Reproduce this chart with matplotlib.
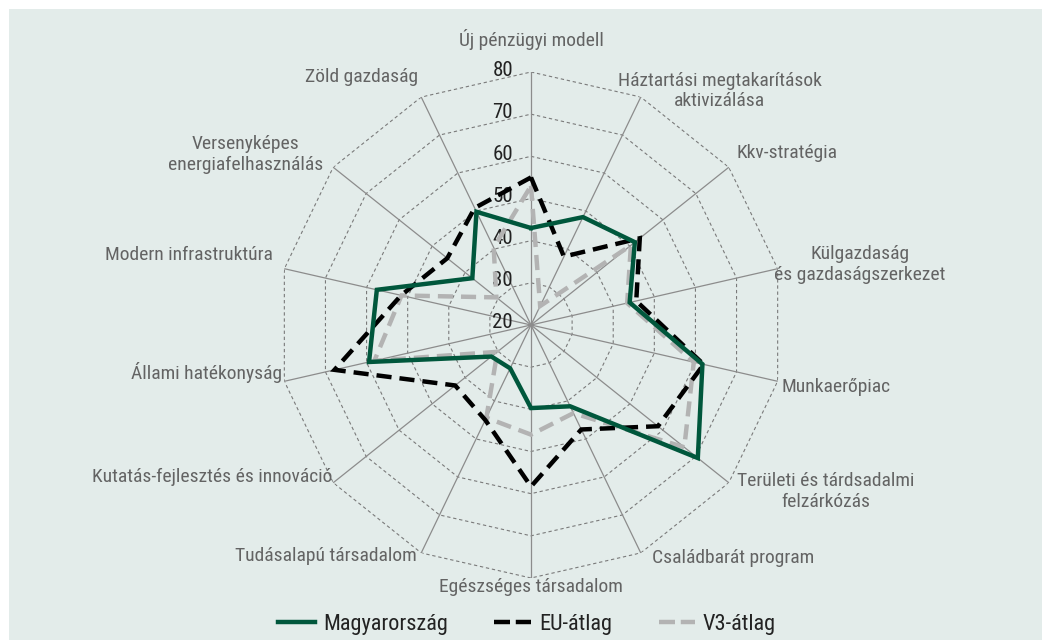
import os
import numpy as np
import matplotlib
matplotlib.use("Agg")
import matplotlib.pyplot as plt
from matplotlib import font_manager
from matplotlib.font_manager import FontProperties
from matplotlib.patches import Rectangle
from matplotlib.lines import Line2D

# ── Data (clockwise from the top) ────────────────────────────────────────
CATEGORIES = [
    "Új pénzügyi modell",
    "Háztartási megtakarítások\naktivizálása",
    "Kkv-stratégia",
    "Külgazdaság\nés gazdaságszerkezet",
    "Munkaerőpiac",
    "Területi és tárdsadalmi\nfelzárkózás",
    "Családbarát program",
    "Egészséges társadalom",
    "Tudásalapú társadalom",
    "Kutatás-fejlesztés és innováció",
    "Állami hatékonyság",
    "Modern infrastruktúra",
    "Versenyképes\nenergiafelhasználás",
    "Zöld gazdaság",
]
HU = [43.0, 48.4, 51.5, 44.0, 61.7, 70.6, 41.4, 39.7, 31.4, 32.0, 59.4, 57.5, 37.8, 49.8]
EU = [55.0, 38.0, 53.0, 45.6, 62.0, 58.5, 47.5, 58.3, 45.0, 43.0, 67.8, 51.6, 45.4, 50.8]
V3 = [53.0, 25.0, 50.3, 43.4, 59.6, 66.5, 43.2, 46.0, 44.4, 30.2, 58.1, 51.5, 30.5, 40.4]
SERIES_NAMES = ["Magyarország", "EU-átlag", "V3-átlag"]
R_TICKS = [20, 30, 40, 50, 60, 70, 80]

# label placement: (dx, dy) in pixels from the outer vertex, alignment
LABEL_LAYOUT = [
    ((0, 32), "center"), ((79, 6), "center"), ((8, 14), "left"),
    ((82, 4), "center"), ((4, -6), "left"), ((97, -9), "center"),
    ((11, -5), "left"), ((0, -9), "center"), ((-4, -3), "right"),
    ((-1, 6), "right"), ((-2, 9), "right"), ((-11, 14), "right"),
    ((-88, 13), "center"), ((-3, 20), "right"),
]


# ── Font: look for a condensed sans, else fall back to Liberation Sans ───
def pick_font():
    wanted = ["NotoSans-CondensedLight", "NotoSans-Condensed.", "RobotoCondensed-Regular",
              "Roboto Condensed", "LiberationSansNarrow-Regular", "NotoSans-SemiCondensed."]
    files = [f.fname for f in font_manager.fontManager.ttflist]
    for w in wanted:
        for fn in files:
            if w.lower() in os.path.basename(fn).lower() or w.lower() in fn.lower():
                return fn, True
    return None, False

font_file, condensed = pick_font()
if font_file:
    def fp(size):
        return FontProperties(fname=font_file, size=size)
else:
    def fp(size):
        return FontProperties(family="Liberation Sans", size=size)
scale = 1.0 if condensed else 0.86

BG = "#e3ecea"
GREEN = "#00573c"
GRAY = "#b3b3b3"

fig = plt.figure(figsize=(10.42, 6.4), dpi=100, facecolor="white")
fig.patches.append(Rectangle((9 / 1042, 0), 1, 1 - 9 / 640, transform=fig.transFigure,
                             facecolor=BG, edgecolor="none", zorder=-5))

ax = fig.add_axes([278 / 1042, 62 / 640, 506 / 1042, 506 / 640], projection="polar")
ax.set_zorder(2)
ax.set_facecolor("none")
ax.set_theta_offset(np.pi / 2)
ax.set_theta_direction(-1)
ax.set_ylim(20, 80)
ax.grid(False)
ax.spines["polar"].set_visible(False)
ax.set_xticks([])
ax.set_yticks([])

n = len(CATEGORIES)
angles = np.linspace(0, 2 * np.pi, n, endpoint=False)
closed = np.append(angles, angles[0])

# polygon grid + spokes
for lvl in R_TICKS[1:]:
    ax.plot(closed, [lvl] * (n + 1), color="#7a7a7a", lw=0.8, dashes=(3, 2.5), zorder=1)
for a in angles:
    ax.plot([a, a], [20, 80], color="#8c8c8c", lw=0.9, zorder=1)

# radial tick labels
for lvl in R_TICKS:
    ax.annotate(str(lvl), (0, lvl), xytext=(-18, 2), textcoords="offset pixels",
                ha="right", va="center", fontproperties=fp(15 * scale), color="#222222")

# category labels
for a, lab, ((dx, dy), ha) in zip(angles, CATEGORIES, LABEL_LAYOUT):
    ax.annotate(lab, (a, 80), xytext=(dx, dy), textcoords="offset pixels",
                ha=ha, va="center", multialignment="center",
                fontproperties=fp(14 * scale), color="#636363", annotation_clip=False)

# series
def close(v):
    return list(v) + [v[0]]

ax.plot(closed, close(V3), color=GRAY, lw=3.2, dashes=(3.4, 1.8),
        dash_joinstyle="miter", dash_capstyle="butt", zorder=3)
ax.plot(closed, close(EU), color="black", lw=3.2, dashes=(3.4, 1.8),
        dash_joinstyle="miter", dash_capstyle="butt", zorder=4)
ax.plot(closed, close(HU), color=GREEN, lw=3.2, solid_joinstyle="miter", zorder=5)

handles = [
    Line2D([], [], color=GREEN, lw=3.2),
    Line2D([], [], color="black", lw=3.2, dashes=(3.6, 1.3), dash_capstyle="butt"),
    Line2D([], [], color=GRAY, lw=3.2, dashes=(3.6, 1.3), dash_capstyle="butt"),
]
fig.legend(handles, SERIES_NAMES, loc="center", bbox_to_anchor=(0.506, 0.024), ncol=3,
           frameon=False, prop=fp(16 * scale), handlelength=1.65, columnspacing=2.1,
           handletextpad=0.35, labelcolor="#222222")

fig.savefig("out.png", dpi=100, facecolor="white")
